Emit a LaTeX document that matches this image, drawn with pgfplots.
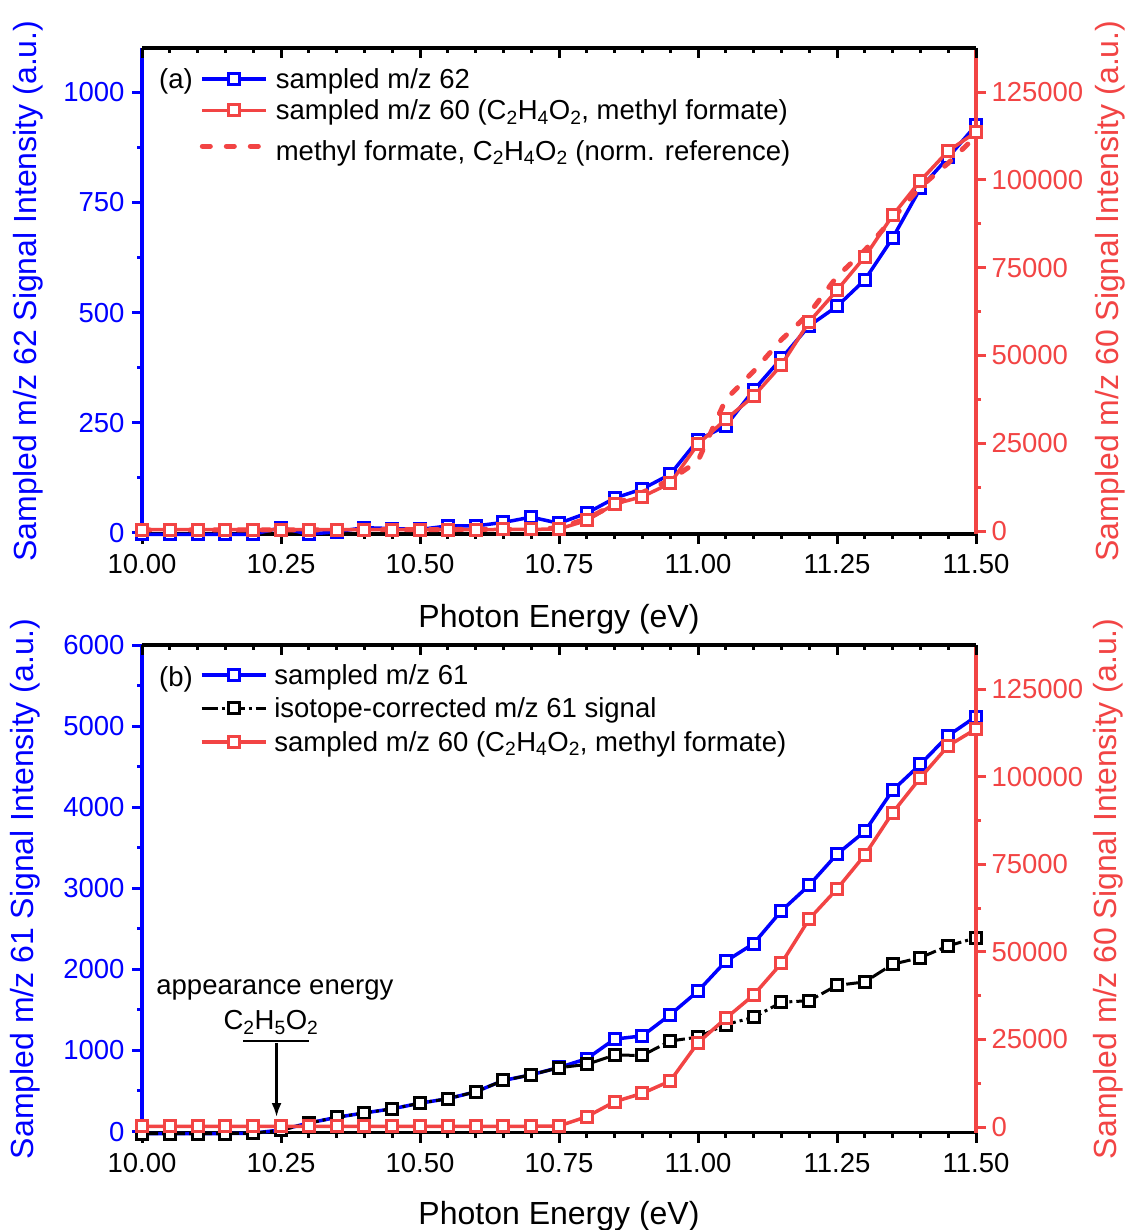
\documentclass[border=0pt]{standalone}
\usepackage{fontspec}
\setmainfont{Liberation Sans}
\usepackage{pgfplots}
\usepackage{pgfplotstable}
\pgfplotsset{compat=1.18}
\usetikzlibrary{arrows.meta}
\definecolor{cblue}{RGB}{0,0,255}
\definecolor{cred}{RGB}{242,68,68}
\newcommand{\tickfont}{\fontsize{27.5}{31}\selectfont}
\newcommand{\labfont}{\fontsize{32}{38}\selectfont}
\newcommand{\legfont}{\fontsize{27.5}{33}\selectfont}

\pgfplotstableread{
x y
10.00 -3
10.05 -3
10.10 -3
10.15 -3
10.20 -3
10.25 12
10.30 -3
10.35 3
10.40 12
10.45 10
10.50 8
10.55 16
10.60 16
10.65 24
10.70 36
10.75 22
10.80 45
10.85 79
10.90 100
10.95 133
11.00 211
11.05 243
11.10 324
11.15 396
11.20 470
11.25 514
11.30 574
11.35 669
11.40 782
11.45 852
11.50 925
}\aBlue

\pgfplotstableread{
x y
10.00 400
10.05 400
10.10 400
10.15 400
10.20 400
10.25 400
10.30 400
10.35 400
10.40 400
10.45 400
10.50 400
10.55 400
10.60 400
10.65 450
10.70 450
10.75 600
10.80 3000
10.85 7700
10.90 9800
10.95 13600
11.00 24800
11.05 31800
11.10 38400
11.15 47300
11.20 59600
11.25 68600
11.30 78100
11.35 89900
11.40 99800
11.45 108300
11.50 113600
}\aRed

\pgfplotstableread{
x y
10.00 300
10.25 300
10.50 400
10.70 500
10.75 900
10.80 3500
10.85 7600
10.90 11000
10.95 14500
11.00 20000
11.05 37500
11.10 45500
11.15 54500
11.20 62000
11.25 72500
11.30 80000
11.35 89000
11.40 98000
11.45 104800
11.50 112500
}\aRef

\pgfplotstableread{
x y
10.00 -25
10.05 -25
10.10 -25
10.15 -25
10.20 -20
10.25 20
10.30 105
10.35 175
10.40 230
10.45 280
10.50 350
10.55 405
10.60 490
10.65 630
10.70 700
10.75 790
10.80 898
10.85 1140
10.90 1180
10.95 1441
11.00 1732
11.05 2100
11.10 2318
11.15 2722
11.20 3038
11.25 3421
11.30 3701
11.35 4208
11.40 4529
11.45 4883
11.50 5118
}\bBlue

\pgfplotstableread{
x y
10.00 -25
10.05 -25
10.10 -25
10.15 -25
10.20 -20
10.25 15
10.30 105
10.35 175
10.40 230
10.45 280
10.50 350
10.55 405
10.60 490
10.65 630
10.70 700
10.75 787
10.80 828
10.85 943
10.90 939
10.95 1116
11.00 1165
11.05 1320
11.10 1408
11.15 1594
11.20 1614
11.25 1803
11.30 1845
11.35 2063
11.40 2145
11.45 2290
11.50 2389
}\bBlack

\pgfplotstableread{
x y
10.00 200
10.05 200
10.10 200
10.15 200
10.20 200
10.25 200
10.30 200
10.35 200
10.40 200
10.45 200
10.50 200
10.55 200
10.60 200
10.65 200
10.70 200
10.75 300
10.80 2940
10.85 7220
10.90 9620
10.95 13130
11.00 24080
11.05 31020
11.10 37670
11.15 46720
11.20 59360
11.25 67930
11.30 77630
11.35 89700
11.40 99690
11.45 108800
11.50 113600
}\bRed

\pgfplotsset{
  common/.style={
    scale only axis, width=834pt,
    xmin=10, xmax=11.5,
    clip=false,
    xtick={10,10.25,10.5,10.75,11,11.25,11.5},
    minor x tick num=4,
    major tick length=10pt, minor tick length=5pt,
    scaled y ticks=false, scaled x ticks=false,
    /pgf/number format/assume math mode=true,
    /pgf/number format/fixed,
    /pgf/number format/1000 sep={},
    tick label style={font=\tickfont},
    legend image code/.code={\draw[mark repeat=2,mark phase=2,##1] plot coordinates {(0pt,0pt) (32pt,0pt) (64pt,0pt)};},
  },
  leftax/.style={common,
    axis x line*=bottom, axis y line*=left, tick align=outside,
    x axis line style={black,line width=3.5pt},
    y axis line style={cblue,line width=3.5pt},
    xtick style={black,line width=3pt},
    ytick style={cblue,line width=3pt},
    yticklabel style={text=cblue, xshift=-4pt},
    x tick label style={yshift=-7pt,/pgf/number format/.cd,fixed,fixed zerofill,precision=2,/tikz/.cd},
    xlabel={Photon Energy (eV)},
  },
  rightax/.style={common,
    axis x line=none, axis y line*=right, tick align=outside,
    y axis line style={cred,line width=3.5pt},
    ytick style={cred,line width=3pt},
    yticklabel style={text=cred, xshift=2pt},
    ymin=-850, ymax=137600,
    ytick={0,25000,50000,75000,100000,125000}, minor y tick num=1,
    ylabel={Sampled m/z 60 Signal Intensity (a.u.)},
  },
  topax/.style={common,
    axis x line*=top, axis y line=none, tick align=inside,
    ymin=0, ymax=1, xticklabels={},
    x axis line style={black,line width=3.5pt},
    xtick style={black,line width=3pt},
    legend cell align=left,
  },
  sqmark/.style={mark=square*, mark size=5.5pt, mark options={solid,fill=white,line width=3pt}},
  refline/.style={cred, line width=5pt, line cap=round, dash pattern=on 8pt off 16pt},
}

\begin{document}
\begin{tikzpicture}
% ---------------- panel (a) ----------------
\begin{axis}[leftax, at={(142pt,-48pt)}, anchor=north west, height=486pt,
  ymin=-2.3, ymax=1100, ytick={0,250,500,750,1000}, minor y tick num=1,
  every axis x label/.style={at={(axis description cs:0.5,-0.176)},anchor=center,font=\labfont},
  ylabel={Sampled m/z 62 Signal Intensity (a.u.)},
  every axis y label/.style={at={(axis description cs:-0.1367,0.5)},rotate=90,anchor=center,font=\labfont,text=cblue},
]
\addplot[cblue, line width=3.5pt, sqmark] table {\aBlue};
\node[font=\legfont,anchor=center] at (axis description cs:0.0408,0.932) {(a)};
\end{axis}
\begin{axis}[rightax, at={(142pt,-48pt)}, anchor=north west, height=486pt,
  every axis y label/.style={at={(axis description cs:1.1607,0.5)},rotate=90,anchor=center,font=\labfont,text=cred},
]
\addplot[cred, line width=3.5pt, sqmark] table {\aRed};
\addplot[refline] table {\aRef};
\end{axis}
\begin{axis}[topax, at={(142pt,-48pt)}, anchor=north west, height=486pt,
  legend style={at={(axis description cs:0.0691,0.963)},anchor=north west,draw=none,fill=none,font=\legfont,inner sep=0pt,row sep=6pt,
    /tikz/every odd column/.append style={column sep=5pt}},
]
\addlegendimage{cblue, line width=3.5pt, sqmark}
\addlegendentry{sampled m/z 62}
\addlegendimage{cred, line width=3.5pt, sqmark}
\addlegendentry{sampled m/z 60 (C\textsubscript{2}H\textsubscript{4}O\textsubscript{2}, methyl formate)}
\addlegendimage{refline}
\addlegendentry{\rule{0pt}{29pt}methyl formate, C\textsubscript{2}H\textsubscript{4}O\textsubscript{2} (norm. reference)}
\end{axis}

% ---------------- panel (b) ----------------
\begin{axis}[leftax, at={(142pt,-645pt)}, anchor=north west, height=487.5pt,
  ymin=-12, ymax=6000, ytick={0,1000,2000,3000,4000,5000,6000}, minor y tick num=1,
  every axis x label/.style={at={(axis description cs:0.5,-0.171)},anchor=center,font=\labfont},
  ylabel={Sampled m/z 61 Signal Intensity (a.u.)},
  every axis y label/.style={at={(axis description cs:-0.1403,0.5)},rotate=90,anchor=center,font=\labfont,text=cblue},
]
\addplot[cblue, line width=3.5pt, sqmark] table {\bBlue};
\addplot[black, line width=3pt, dash pattern=on 16pt off 4pt on 3pt off 4pt, sqmark] table {\bBlack};
\node[font=\legfont,anchor=center] at (axis description cs:0.0408,0.930) {(b)};
\node[font=\legfont,anchor=center] at (axis cs:10.239,1745) {appearance energy};
\node[font=\legfont,anchor=center] at (axis cs:10.232,1345) {C\textsubscript{2}H\textsubscript{5}O\textsubscript{2}};
\draw[line width=2.5pt] (axis cs:10.182,1116) -- (axis cs:10.300,1116);
\draw[line width=2.5pt,-{Latex[length=14pt,width=10pt]}] (axis cs:10.242,1091) -- (axis cs:10.242,179);
\end{axis}
\begin{axis}[rightax, at={(142pt,-645pt)}, anchor=north west, height=487.5pt,
  ymin=-1570, ymax=137560,
  every axis y label/.style={at={(axis description cs:1.1583,0.5)},rotate=90,anchor=center,font=\labfont,text=cred},
]
\addplot[cred, line width=3.5pt, sqmark] table {\bRed};
\end{axis}
\begin{axis}[topax, at={(142pt,-645pt)}, anchor=north west, height=487.5pt,
  legend style={at={(axis description cs:0.0691,0.965)},anchor=north west,draw=none,fill=none,font=\legfont,inner sep=0pt,row sep=8pt,
    /tikz/every odd column/.append style={column sep=5pt}},
]
\addlegendimage{cblue, line width=3.5pt, sqmark}
\addlegendentry{sampled m/z 61}
\addlegendimage{black, line width=3pt, dash pattern=on 16pt off 4pt on 3pt off 4pt, sqmark}
\addlegendentry{isotope-corrected m/z 61 signal}
\addlegendimage{cred, line width=3.5pt, sqmark}
\addlegendentry{sampled m/z 60 (C\textsubscript{2}H\textsubscript{4}O\textsubscript{2}, methyl formate)}
\end{axis}
\pgfresetboundingbox
\path[use as bounding box] (0pt,0pt) rectangle (1128pt,-1230pt);
\end{tikzpicture}
\end{document}
